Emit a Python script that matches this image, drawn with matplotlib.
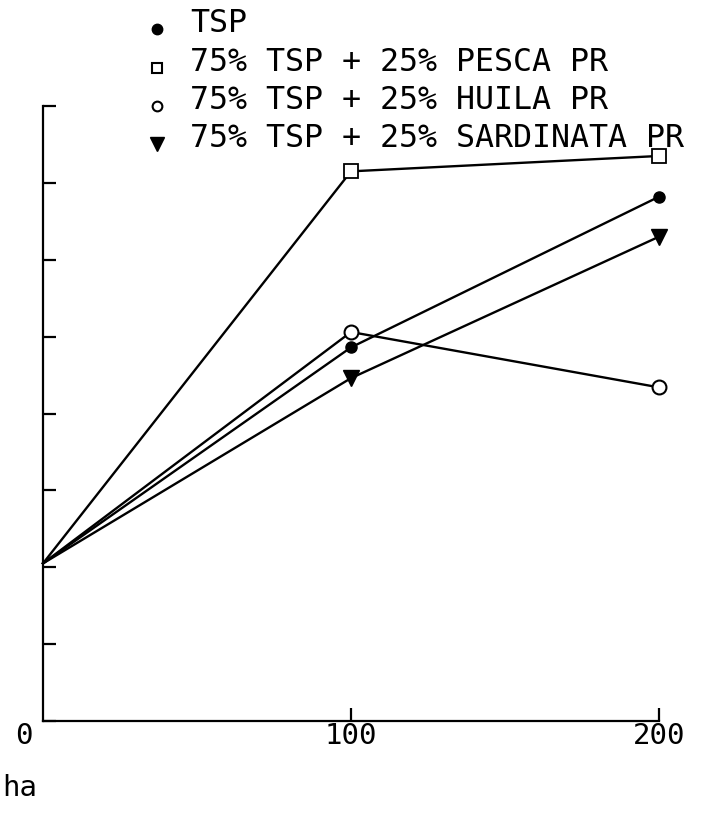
import matplotlib
matplotlib.use("Agg")
import matplotlib.pyplot as plt
from matplotlib.lines import Line2D

# Data (y in tick units, 8 ticks on the axis)
rates = [0, 100, 200]
tsp = [2.05, 4.86, 6.82]
pesca = [2.05, 7.15, 7.35]
huila = [2.05, 5.06, 4.34]
sardinata = [2.05, 4.46, 6.30]

labels = ["TSP",
          "75% TSP + 25% PESCA PR",
          "75% TSP + 25% HUILA PR",
          "75% TSP + 25% SARDINATA PR"]
y_ticks = [0, 1, 2, 3, 4, 5, 6, 7, 8]
x_ticks = [100, 200]
x_tick_labels = ["100", "200"]

FONT = "DejaVu Sans Mono"
FS = 21
LEG_FS = 22.8
W, H = 713, 819

fig = plt.figure(figsize=(W / 100, H / 100), dpi=100)
ax = fig.add_axes([43 / W, 1 - 721 / H, (659 - 43) / W, (721 - 106) / H])

styles = [
    dict(marker="o", ms=8, mfc="black", mec="black"),
    dict(marker="s", ms=10, mfc="white", mec="black", mew=1.3),
    dict(marker="o", ms=10, mfc="white", mec="black", mew=1.5),
    dict(marker="v", ms=12, mfc="black", mec="black"),
]
series = [tsp, pesca, huila, sardinata]

for vals, st in zip(series, styles):
    ax.plot(rates, vals, color="black", lw=1.7, markevery=[1, 2],
            clip_on=False, zorder=3, **st)

ax.set_xlim(0, 200)
ax.set_ylim(0, 8)
ax.spines["top"].set_visible(False)
ax.spines["right"].set_visible(False)
for s in ("left", "bottom"):
    ax.spines[s].set_linewidth(1.6)

ax.set_yticks(y_ticks)
ax.set_yticklabels([])
ax.set_xticks(x_ticks)
ax.set_xticklabels(x_tick_labels, fontsize=FS, family=FONT)
ax.tick_params(axis="both", direction="in", length=9.5, width=1.6)
ax.tick_params(axis="x", pad=1)

# "0" at the origin, set a bit left of the spine as in the scan
ax.annotate("0", xy=(0, 0), xytext=(-19, -1), textcoords="offset pixels",
            ha="center", va="top", fontsize=FS, family=FONT)

# hand-placed legend (baselines in pixels from the top)
legend_base = [32, 71, 109, 147]
leg_styles = [
    dict(marker="o", ms=7.5, mfc="black", mec="black"),
    dict(marker="s", ms=7, mfc="white", mec="black", mew=1.5),
    dict(marker="o", ms=7, mfc="white", mec="black", mew=1.5),
    dict(marker="v", ms=9.5, mfc="black", mec="black"),
]
for lab, yb, st in zip(labels, legend_base, leg_styles):
    fig.add_artist(Line2D([157 / W], [1 - (yb - 3) / H], linestyle="none",
                          transform=fig.transFigure, **st))
    fig.text(190 / W, 1 - yb / H, lab, fontsize=LEG_FS, family=FONT,
             va="baseline", ha="left")

fig.text(2 / W, 1 - 788 / H, "ha", fontsize=FS, family=FONT, va="center", ha="left")

fig.savefig("out.png", dpi=100)
